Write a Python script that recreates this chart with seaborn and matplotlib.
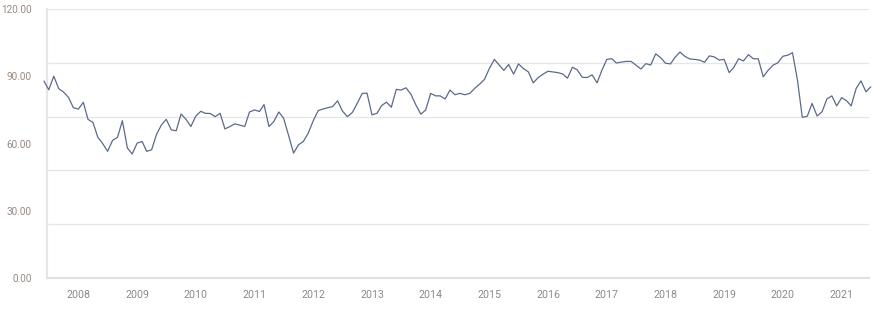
import numpy as np
import pandas as pd
import matplotlib
matplotlib.use("Agg")
import matplotlib.pyplot as plt
import matplotlib.dates as mdates
import seaborn as sns

# ---- data (monthly, Jun 2007 - Jul 2021) ----
start_month = "2007-06-01"
values = [
    87.9, 84.0, 90.1, 84.5, 83.0, 80.6, 76.0, 75.4, 78.4, 70.8,
    69.4, 62.8, 59.9, 56.5, 61.4, 62.8, 70.2, 58.0, 55.3, 60.2,
    60.9, 56.5, 57.2, 64.0, 68.3, 70.8, 66.1, 65.7, 73.2, 70.8,
    67.6, 72.3, 74.4, 73.5, 73.4, 72.0, 73.5, 66.5, 67.6, 68.8,
    68.2, 67.6, 74.1, 75.0, 74.3, 77.4, 67.6, 69.8, 74.1, 71.3,
    63.6, 55.7, 59.4, 60.9, 64.6, 70.1, 74.7, 75.4, 76.0, 76.5,
    79.1, 74.5, 72.0, 73.9, 77.9, 82.4, 82.5, 72.8, 73.5, 76.9,
    78.5, 76.2, 84.2, 83.9, 84.9, 81.9, 77.2, 73.1, 75.0, 82.4,
    81.3, 81.3, 79.9, 83.9, 81.8, 82.4, 81.8, 82.4, 84.6, 86.5,
    88.6, 93.5, 97.6, 95.3, 92.7, 95.3, 91.0, 95.6, 93.5, 92.0,
    87.1, 89.5, 91.0, 92.3, 92.0, 91.7, 91.1, 89.2, 94.1, 92.9,
    89.6, 89.5, 90.7, 87.1, 92.7, 97.6, 97.9, 96.0, 96.4, 96.7,
    96.7, 95.0, 93.3, 95.7, 95.1, 100.1, 98.4, 95.9, 95.6, 98.5,
    100.9, 99.0, 97.8, 97.6, 97.3, 96.3, 99.2, 98.7, 97.3, 97.6,
    91.7, 93.9, 97.9, 96.9, 99.7, 97.9, 97.9, 89.8, 92.7, 95.0,
    96.1, 99.0, 99.5, 100.6, 88.3, 71.7, 72.2, 77.9, 72.3, 74.2,
    79.9, 81.3, 76.8, 80.5, 79.1, 76.8, 84.6, 88.0, 83.1, 85.3,
]
y_label_ticks = [0, 30, 60, 90, 120]
y_grid_ticks = [0, 24, 48, 72, 96, 120]
year_ticks = list(range(2008, 2022))

dates = pd.date_range(start_month, periods=len(values), freq="MS")
df = pd.DataFrame({"date": dates, "value": values})

sns.set_theme(style="white")
plt.rcParams["font.family"] = ["Roboto", "DejaVu Sans"]

fig = plt.figure(figsize=(8.95, 3.12), dpi=100)
ax = fig.add_axes([47 / 895, (312 - 277.7) / 312, 822 / 895, 268.4 / 312])

sns.lineplot(data=df, x="date", y="value", ax=ax, color="#5b6a8a",
             linewidth=0.9, clip_on=False, zorder=3)

ax.set_ylim(0, 120)
ax.set_xlim(pd.Timestamp("2007-06-20"), pd.Timestamp("2021-06-20"))

# gridlines (major, unlabeled) and labels (minor)
ax.yaxis.remove_overlapping_locs = False
ax.set_yticks(y_grid_ticks)
ax.set_yticklabels([])
ax.set_yticks(y_label_ticks, minor=True)
ax.set_yticklabels([f"{v:.2f}" for v in y_label_ticks], minor=True)
ax.tick_params(axis="y", which="major", length=3.5, width=0.8, color="#e3e3e3")
ax.tick_params(axis="y", which="minor", length=0, pad=11, labelsize=7.2,
               labelcolor="#978a82")
ax.grid(axis="y", which="major", color="#e6e6e6", linewidth=0.9)
ax.grid(axis="x", visible=False)

ax.set_xticks([pd.Timestamp(f"{y}-01-01") for y in year_ticks])
ax.set_xticklabels([str(y) for y in year_ticks])
ax.tick_params(axis="x", length=4, width=0.8, color="#e0e0e0", pad=5,
               labelsize=7.7, labelcolor="#8a8a8a")

for s in ["top", "right"]:
    ax.spines[s].set_visible(False)
ax.spines["left"].set_color("#e6e6e6")
ax.spines["left"].set_linewidth(1.5)
ax.spines["bottom"].set_color("#e0e0e0")
ax.spines["bottom"].set_linewidth(1.5)

ax.set_xlabel("")
ax.set_ylabel("")

fig.savefig("out.png", dpi=100)
